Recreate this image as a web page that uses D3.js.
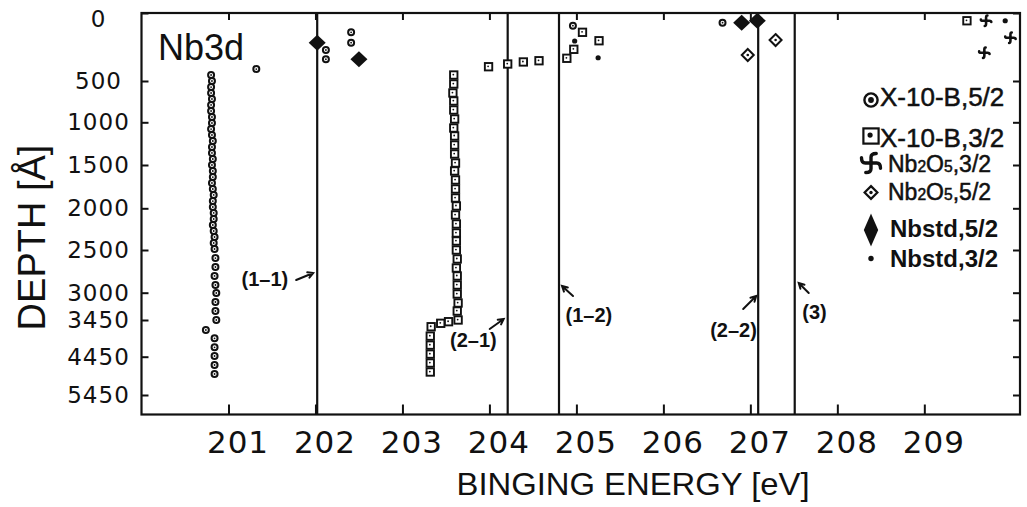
<!DOCTYPE html>
<html>
<head>
<meta charset="utf-8">
<script src="https://cdn.jsdelivr.net/npm/d3@7"></script>
<style>
  html, body { margin: 0; padding: 0; background: #fff; }
  svg { display: block; }
</style>
</head>
<body>
<svg id="chart" width="1027" height="507"></svg>
<script>
// Nb 3d peak positions (binding energy) against sputter depth

const energyTicks = [201, 202, 203, 204, 205, 206, 207, 208, 209];
const depthTicks = [0, 500, 1000, 1500, 2000, 2500, 3000, 3450, 4450, 5450];

const seriesNames = ["X-10-B,5/2", "X-10-B,3/2", "Nb2O5,3/2", "Nb2O5,5/2", "Nbstd,5/2", "Nbstd,3/2"];

// X-10-B, 3d5/2
const x10b52Energy = [
  200.80, 200.81, 200.80, 200.80, 200.81, 200.80, 200.80, 200.81, 200.81, 200.80,
  200.81, 200.82, 200.81, 200.81, 200.82, 200.81, 200.82, 200.82, 200.81, 200.82,
  200.83, 200.82, 200.82, 200.83, 200.83, 200.82, 200.83, 200.84, 200.83, 200.84,
  200.85, 200.85, 200.84, 200.85, 200.86, 200.85, 200.85, 200.86,
  200.74, 200.84, 200.84, 200.84, 200.84, 200.84,
  201.32, 202.12, 202.12, 202.41, 202.41, 204.96, 206.68
];
const x10b52Depth = [
  456, 500, 573, 645, 718, 790, 863, 936, 1008, 1079,
  1149, 1219, 1289, 1359, 1430, 1500, 1569, 1639, 1708, 1777,
  1846, 1916, 1985, 2056, 2128, 2200, 2272, 2344, 2416, 2488,
  2594, 2699, 2804, 2910, 3005, 3153, 3302, 3450,
  3723, 3950, 4195, 4431, 4667, 4902,
  412, 272, 340, 142, 218, 93, 71
];

// X-10-B, 3d3/2
const x10b32Energy = [
  203.59, 203.59, 203.58, 203.59, 203.59, 203.60, 203.59, 203.60, 203.60, 203.60,
  203.61, 203.60, 203.61, 203.61, 203.61, 203.62, 203.61, 203.62, 203.62, 203.62,
  203.62, 203.63, 203.62, 203.63, 203.63, 203.63, 203.64, 203.63, 203.64,
  203.53, 203.44, 203.33,
  203.32, 203.32, 203.32, 203.32, 203.32,
  203.99, 204.21, 204.39, 204.57, 204.89, 204.97, 205.07, 205.26, 209.49
];
const x10b32Depth = [
  456, 536, 645, 742, 851, 960, 1067, 1160, 1266, 1371,
  1477, 1569, 1673, 1777, 1881, 1973, 2080, 2188, 2296, 2392,
  2500, 2605, 2711, 2804, 2910, 3021, 3170, 3302, 3450,
  3496, 3540, 3633,
  3889, 4134, 4379, 4615, 4850,
  395, 375, 360, 351, 333, 267, 142, 204, 57
];

// Nb2O5 reference, 3d3/2 and 3d5/2
const nb2o5_32Energy = [209.71, 209.99, 209.69];
const nb2o5_32Depth = [57, 182, 292];
const nb2o5_52Energy = [206.97, 207.29];
const nb2o5_52Depth = [309, 199];

// Nb metal standard, 3d5/2 and 3d3/2
const nbstd52Energy = [202.02, 202.50, 206.90, 207.08];
const nbstd52Depth = [218, 340, 71, 57];
const nbstd32Energy = [204.98, 205.25, 209.93];
const nbstd32Depth = [206, 329, 57];

// Boundaries between the chemical states
const boundaryEnergy = [202.02, 204.21, 204.80, 207.09, 207.51];
const boundaryNames = ["(1–1)", "(2–1)", "(1–2)", "(2–2)", "(3)"];

// ---------------------------------------------------------------------------
const series = [
  { name: seriesNames[0], kind: "circleDot",  energy: x10b52Energy,  depth: x10b52Depth },
  { name: seriesNames[1], kind: "squareDot",  energy: x10b32Energy,  depth: x10b32Depth },
  { name: seriesNames[2], kind: "pinwheel",   energy: nb2o5_32Energy, depth: nb2o5_32Depth },
  { name: seriesNames[3], kind: "diamondDot", energy: nb2o5_52Energy, depth: nb2o5_52Depth },
  { name: seriesNames[4], kind: "diamond",    energy: nbstd52Energy, depth: nbstd52Depth },
  { name: seriesNames[5], kind: "dot",        energy: nbstd32Energy, depth: nbstd32Depth }
];

const ink = "#111";
const plot = { left: 141.5, top: 13, right: 1020, bottom: 414.5 };

const x = d3.scaleLinear().domain([200, 210.1]).range([plot.left, plot.right]);
// depth axis is drawn piecewise: each labelled depth sits at its own height
const y = d3.scaleLinear()
  .domain([...depthTicks, 5950])
  .range([13, 81, 122.3, 165, 208.3, 250, 292.7, 320, 356.7, 395, 414.5]);

const svg = d3.select("#chart");
svg.append("rect").attr("width", 1027).attr("height", 507).attr("fill", "#fff");

// marker shapes (plot size and legend size)
const markerStyle = {
  plot: {
    circleDot:  { r: 3.0, sw: 2.0, dot: 0.9 },
    squareDot:  { h: 3.7, sw: 1.9, dot: 0.9 },
    pinwheel:   { s: 5.2, sw: 2.6, curl: 0.25 },
    diamondDot: { w: 6, h: 6, sw: 2.0, dot: 1.3 },
    diamond:    { w: 8.5, h: 8 },
    dot:        { r: 2.6 }
  },
  legend: {
    circleDot:  { r: 6.6, sw: 2.4, dot: 2.9 },
    squareDot:  { h: 7.6, sw: 2.2, dot: 2.6 },
    pinwheel:   { s: 9.5, sw: 3.4, curl: 0.55 },
    diamondDot: { w: 6.4, h: 6.4, sw: 2.2, dot: 1.7 },
    diamond:    { w: 7.2, h: 16.5 },
    dot:        { r: 2.7 }
  }
};

function pinwheelArm(s, curl) {
  return `M0,0 L0,${-0.6 * s} Q0,${-s} ${curl * s},${-s}`;
}

function drawMarker(g, kind, st) {
  if (kind === "circleDot") {
    g.append("circle").attr("r", st.r).attr("fill", "#fff").attr("stroke", ink).attr("stroke-width", st.sw);
    g.append("circle").attr("r", st.dot).attr("fill", ink);
  } else if (kind === "squareDot") {
    g.append("rect").attr("x", -st.h).attr("y", -st.h).attr("width", 2 * st.h).attr("height", 2 * st.h)
      .attr("fill", "#fff").attr("stroke", ink).attr("stroke-width", st.sw);
    g.append("circle").attr("r", st.dot).attr("cx", -st.h * 0.12).attr("cy", -st.h * 0.12).attr("fill", ink);
  } else if (kind === "pinwheel") {
    [0, 90, 180, 270].forEach(a => {
      g.append("path").attr("d", pinwheelArm(st.s, st.curl)).attr("transform", `rotate(${a})`)
        .attr("fill", "none").attr("stroke", ink).attr("stroke-width", st.sw).attr("stroke-linecap", "round");
    });
  } else if (kind === "diamondDot") {
    g.append("path").attr("d", `M0,${-st.h} L${st.w},0 L0,${st.h} L${-st.w},0 Z`)
      .attr("fill", "#fff").attr("stroke", ink).attr("stroke-width", st.sw);
    g.append("circle").attr("r", st.dot).attr("fill", ink);
  } else if (kind === "diamond") {
    g.append("path").attr("d", `M0,${-st.h} L${st.w},0 L0,${st.h} L${-st.w},0 Z`).attr("fill", ink);
  } else if (kind === "dot") {
    g.append("circle").attr("r", st.r).attr("fill", ink);
  }
}

// ---- frame, boundary lines and axes ---------------------------------------
svg.append("rect")
  .attr("x", plot.left).attr("y", plot.top)
  .attr("width", plot.right - plot.left).attr("height", plot.bottom - plot.top)
  .attr("fill", "none").attr("stroke", ink).attr("stroke-width", 2.2);

svg.append("g").selectAll("line").data(boundaryEnergy).join("line")
  .attr("x1", d => x(d)).attr("x2", d => x(d))
  .attr("y1", plot.top).attr("y2", plot.bottom)
  .attr("stroke", ink).attr("stroke-width", 2.2);

function styleAxis(g) {
  g.select(".domain").remove();
  g.selectAll(".tick line").attr("stroke", ink).attr("stroke-width", 2);
}

// bottom: ticks pointing up, labels below
const bottomAxis = svg.append("g")
  .attr("transform", `translate(0,${plot.bottom})`)
  .call(d3.axisBottom(x).tickValues(energyTicks).tickSize(-10).tickPadding(16).tickFormat(d3.format("d")))
  .call(styleAxis);
bottomAxis.selectAll(".tick text")
  .attr("fill", ink).attr("dx", 9)
  .style("font-family", "'DejaVu Sans', sans-serif").style("font-size", "31px")
  .style("letter-spacing", "1px");

// top: ticks only
svg.append("g")
  .attr("transform", `translate(0,${plot.top})`)
  .call(d3.axisTop(x).tickValues(energyTicks).tickSize(-7).tickFormat(""))
  .call(styleAxis);

// left: ticks pointing in, labels centred in the margin
const leftAxis = svg.append("g")
  .attr("transform", `translate(${plot.left},0)`)
  .call(d3.axisLeft(y).tickValues(depthTicks).tickSize(-7).tickPadding(0).tickFormat(d3.format("d")))
  .call(styleAxis);
leftAxis.selectAll(".tick text")
  .attr("fill", ink).attr("x", -43).attr("text-anchor", "middle")
  .attr("dy", d => d === 0 ? "0.6em" : "0.32em")
  .style("font-family", "'DejaVu Sans', sans-serif").style("font-size", "23px")
  .style("letter-spacing", "1px");

// right: ticks only
svg.append("g")
  .attr("transform", `translate(${plot.right},0)`)
  .call(d3.axisLeft(y).tickValues(depthTicks).tickSize(7).tickFormat(""))
  .call(styleAxis);

// axis titles
svg.append("text")
  .attr("x", 633).attr("y", 495).attr("text-anchor", "middle")
  .attr("textLength", 353).attr("lengthAdjust", "spacingAndGlyphs")
  .attr("fill", ink)
  .style("font-family", "'Liberation Sans', Arial, sans-serif").style("font-size", "32px")
  .text("BINGING ENERGY [eV]");

svg.append("text")
  .attr("transform", "translate(45,237.5) rotate(-90)")
  .attr("text-anchor", "middle").attr("fill", ink)
  .style("font-family", "'Liberation Sans', Arial, sans-serif").style("font-size", "38px")
  .text("DEPTH [Å]");

svg.append("text")
  .attr("x", 158).attr("y", 60).attr("fill", ink)
  .style("font-family", "'Liberation Sans', Arial, sans-serif").style("font-size", "36px")
  .text("Nb3d");

// ---- data points ------------------------------------------------------------
const pointsLayer = svg.append("g");
series.forEach(s => {
  s.energy.forEach((e, i) => {
    const g = pointsLayer.append("g").attr("transform", `translate(${x(e)},${y(s.depth[i])})`);
    drawMarker(g, s.kind, markerStyle.plot[s.kind]);
  });
});

// ---- boundary annotations ---------------------------------------------------
// text and arrow placed relative to each boundary line
const noteLayout = [
  { anchor: "end",   tx: -29,  ty: 286, tail: [-21, 280], tip: [-4, 273] },
  { anchor: "end",   tx: -11,  ty: 347, tail: [-18, 329], tip: [-4, 319] },
  { anchor: "start", tx: 6.5,  ty: 322, tail: [14, 296],  tip: [3, 286] },
  { anchor: "start", tx: -48,  ty: 337, tail: [-15, 309], tip: [-2, 296] },
  { anchor: "start", tx: 7.5,  ty: 319, tail: [14, 293],  tip: [4, 283] }
];
const notes = svg.append("g");
boundaryEnergy.forEach((e, i) => {
  const L = noteLayout[i];
  const bx = x(e);
  notes.append("text")
    .attr("x", bx + L.tx).attr("y", L.ty).attr("text-anchor", L.anchor).attr("fill", ink)
    .style("font-family", "'Liberation Sans', Arial, sans-serif").style("font-size", "20px")
    .style("font-weight", "bold")
    .text(boundaryNames[i]);
  const x0 = bx + L.tail[0], y0 = L.tail[1], x1 = bx + L.tip[0], y1 = L.tip[1];
  const ang = Math.atan2(y1 - y0, x1 - x0);
  const hl = 6, spread = 0.5;
  notes.append("path")
    .attr("d", `M${x0},${y0} L${x1},${y1}` +
      ` M${x1 - hl * Math.cos(ang - spread)},${y1 - hl * Math.sin(ang - spread)} L${x1},${y1}` +
      ` L${x1 - hl * Math.cos(ang + spread)},${y1 - hl * Math.sin(ang + spread)}`)
    .attr("fill", "none").attr("stroke", ink).attr("stroke-width", 2).attr("stroke-linecap", "round");
});

// ---- legend -----------------------------------------------------------------
const legendRows = [
  { sy: 100,   ty: 106,   tx: 880, size: 26, weight: "normal" },
  { sy: 136,   ty: 146.5, tx: 880, size: 26, weight: "normal" },
  { sy: 163,   ty: 171.5, tx: 888, size: 23, weight: "normal" },
  { sy: 192.5, ty: 200,   tx: 888, size: 23, weight: "normal" },
  { sy: 230,   ty: 237,   tx: 890, size: 24, weight: "bold" },
  { sy: 258.5, ty: 266.5, tx: 890, size: 24, weight: "bold" }
];
const legend = svg.append("g");
series.forEach((s, i) => {
  const row = legendRows[i];
  const g = legend.append("g").attr("transform", `translate(871,${row.sy})`);
  drawMarker(g, s.kind, markerStyle.legend[s.kind]);
  const t = legend.append("text")
    .attr("x", row.tx).attr("y", row.ty).attr("fill", ink)
    .attr("stroke", ink).attr("stroke-width", row.weight === "bold" ? 0 : 0.5)
    .style("font-family", "'Liberation Sans', Arial, sans-serif")
    .style("font-size", row.size + "px").style("font-weight", row.weight);
  const m = s.name.match(/^Nb2O5(.*)$/);
  if (m) {
    t.append("tspan").text("Nb");
    t.append("tspan").style("font-size", "68%").text("2");
    t.append("tspan").text("O");
    t.append("tspan").style("font-size", "68%").text("5");
    t.append("tspan").text(m[1]);
  } else {
    t.text(s.name);
  }
});
</script>
</body>
</html>
